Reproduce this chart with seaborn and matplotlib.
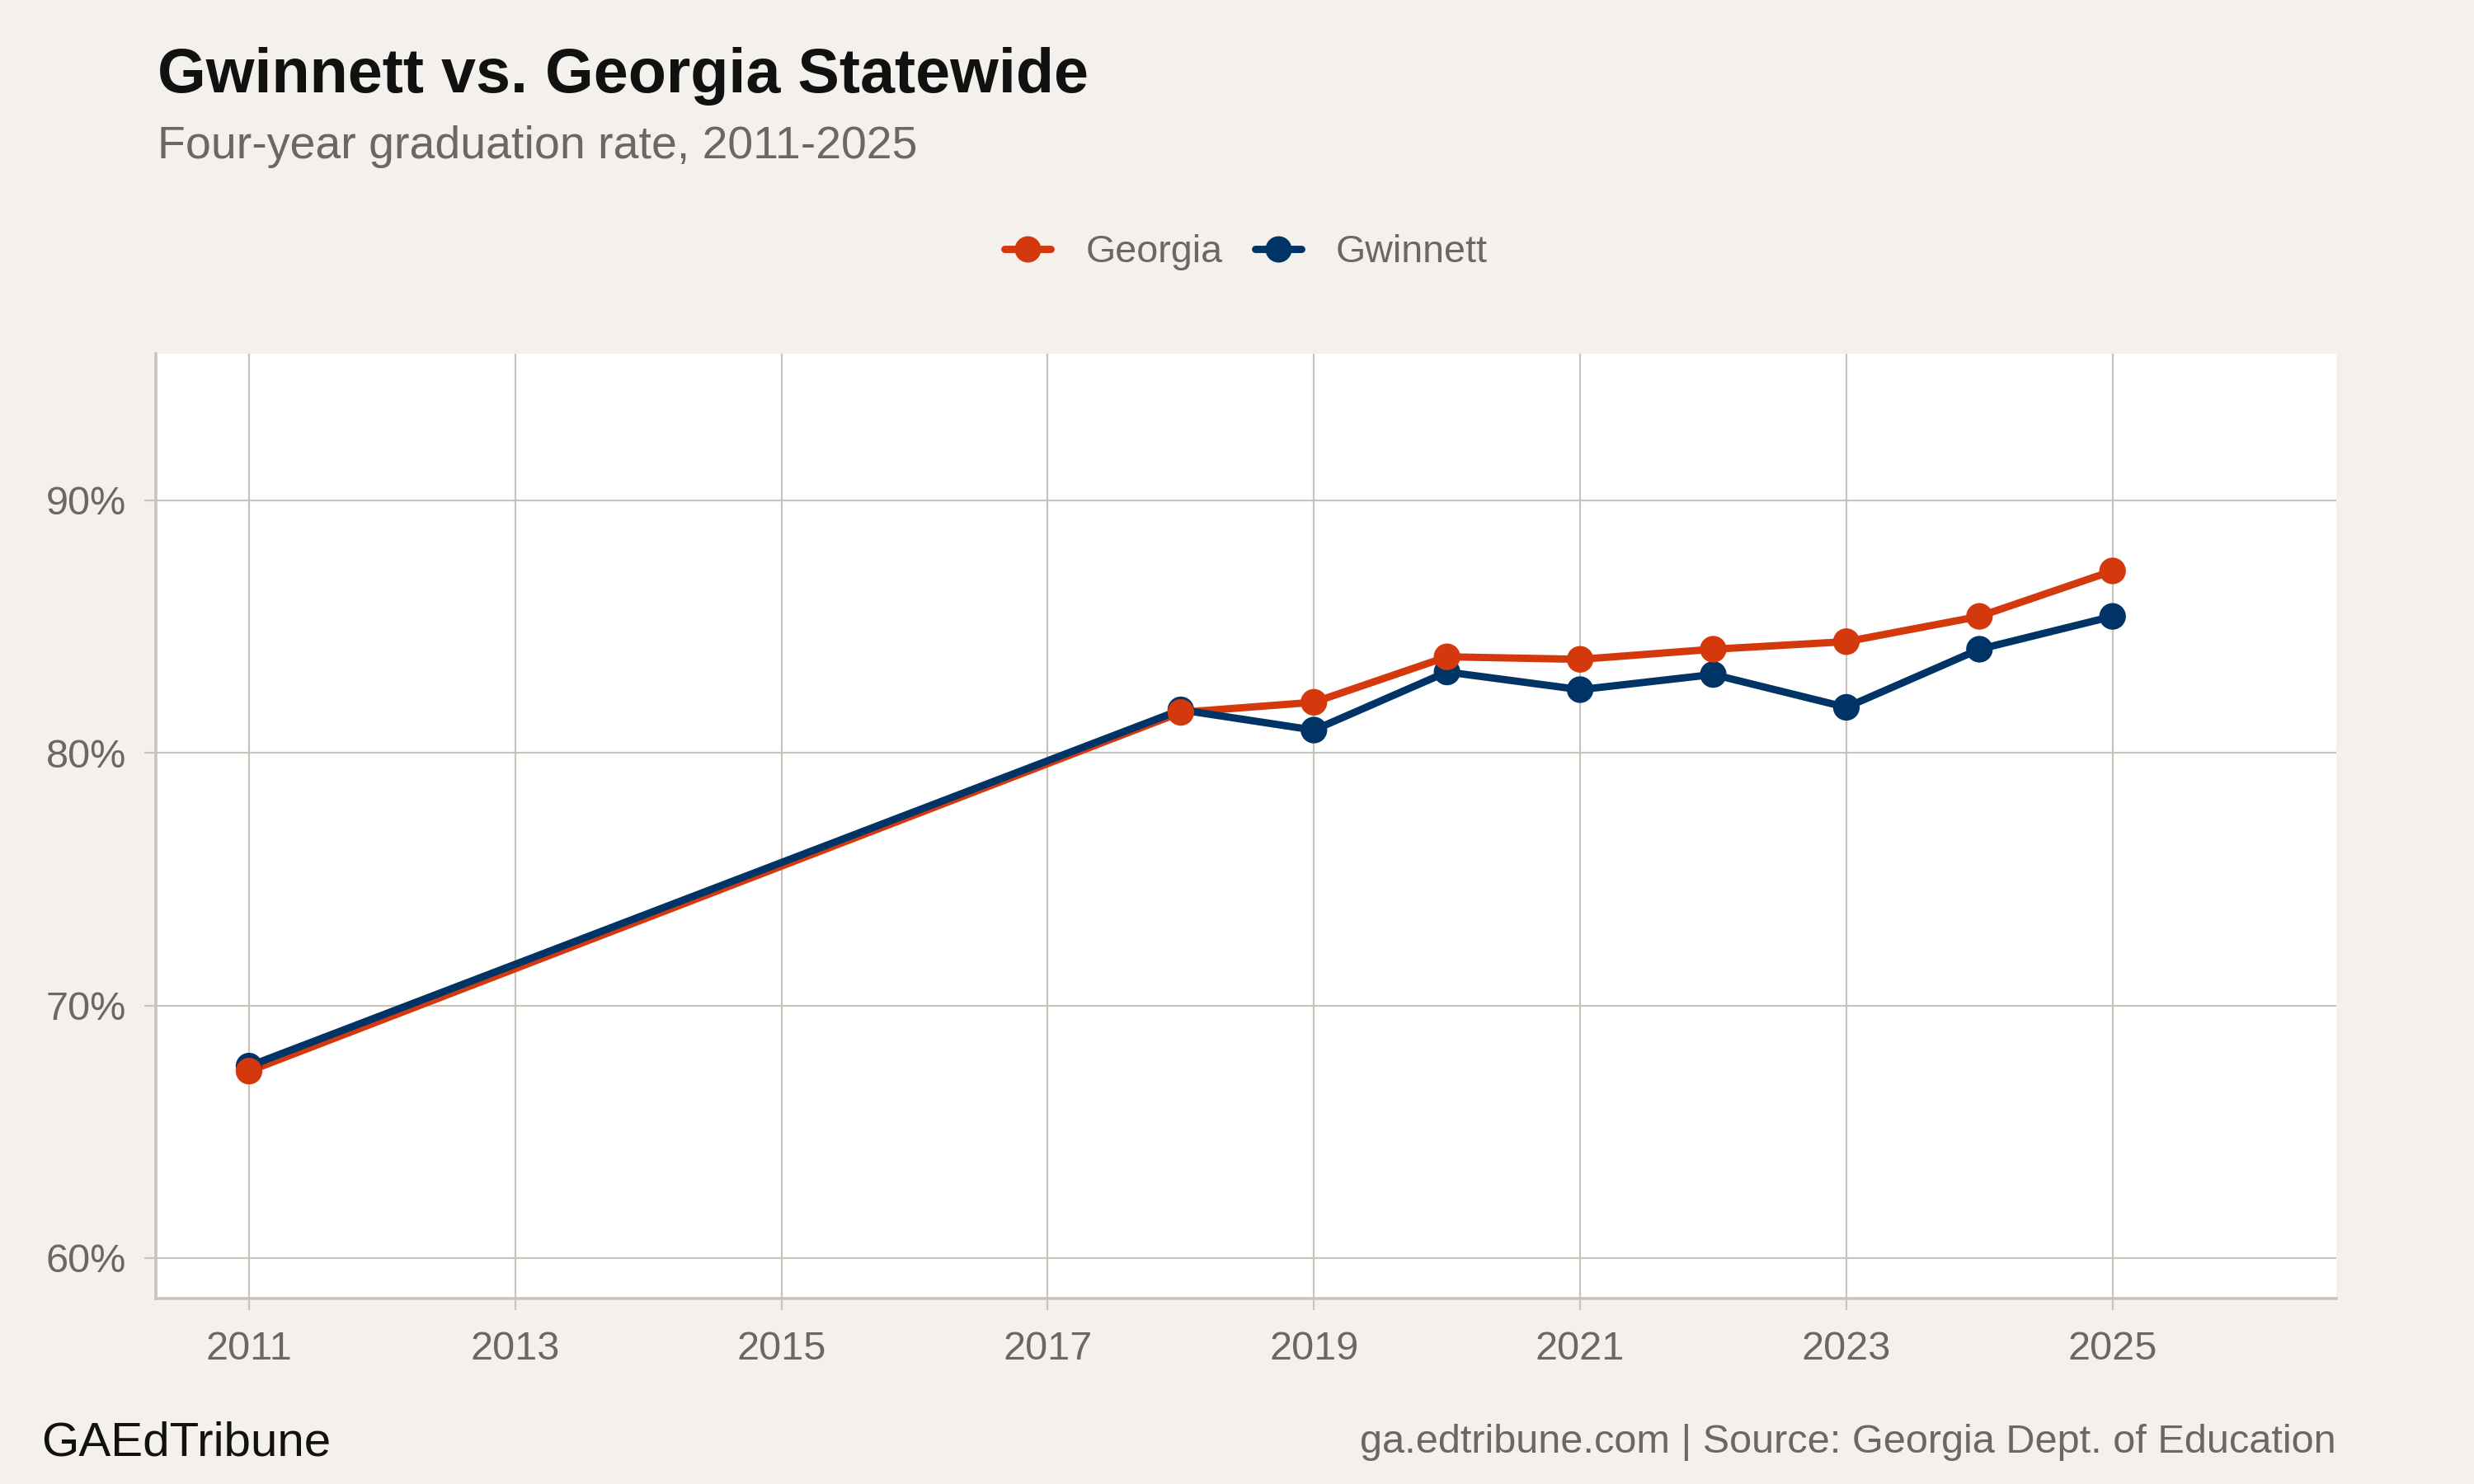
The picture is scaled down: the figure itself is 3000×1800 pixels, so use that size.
import pandas as pd
import matplotlib.pyplot as plt
import seaborn as sns
from matplotlib.lines import Line2D
from matplotlib.ticker import FuncFormatter

years = [2011, 2018, 2019, 2020, 2021, 2022, 2023, 2024, 2025]
georgia = [67.4, 81.6, 82.0, 83.8, 83.7, 84.1, 84.4, 85.4, 87.2]
gwinnett = [67.6, 81.7, 80.9, 83.2, 82.5, 83.1, 81.8, 84.1, 85.4]
series = ["Georgia", "Gwinnett"]
colors = {"Georgia": "#d4380d", "Gwinnett": "#003366"}
x_ticks = [2011, 2013, 2015, 2017, 2019, 2021, 2023, 2025]
y_ticks = [60, 70, 80, 90]

df = pd.DataFrame({
    "year": years * 2,
    "rate": georgia + gwinnett,
    "district": ["Georgia"] * len(years) + ["Gwinnett"] * len(years),
})

bg = "#f4f1ec"
grid = "#c9c4bb"
grey = "#6b6761"

sns.set_theme(style="white")
plt.rcParams["font.family"] = ["Liberation Sans", "DejaVu Sans"]

fig = plt.figure(figsize=(15, 9), dpi=200, facecolor=bg)
ax = fig.add_axes([0.063, 0.125, 0.8813, 0.6367])
ax.set_facecolor("white")

sns.lineplot(data=df, x="year", y="rate", hue="district", hue_order=series,
             palette=colors, linewidth=3.2, legend=False, ax=ax, zorder=3)
# points for Gwinnett first so Georgia dots sit on top
pts = df.sort_values("district", ascending=False)
sns.scatterplot(data=pts, x="year", y="rate", hue="district", hue_order=series,
                palette=colors, s=135, linewidth=0, legend=False, ax=ax, zorder=4)

ax.set_xlim(2010.3, 2026.68)
ax.set_ylim(58.4, 95.8)
ax.set_xticks(x_ticks)
ax.set_yticks(y_ticks)
ax.yaxis.set_major_formatter(FuncFormatter(lambda v, p: f"{v:.0f}%"))
ax.grid(True, color=grid, linewidth=0.8)
ax.set_axisbelow(True)
ax.tick_params(axis="both", colors=grid, labelcolor=grey, labelsize=17.5,
               length=5, width=0.8)
ax.tick_params(axis="x", pad=9, bottom=True)
ax.tick_params(axis="y", pad=8, left=True)
ax.set_xlabel("")
ax.set_ylabel("")
for side in ["top", "right"]:
    ax.spines[side].set_visible(False)
for side in ["left", "bottom"]:
    ax.spines[side].set_color(grid)
    ax.spines[side].set_linewidth(1.3)

fig.text(0.0637, 0.9378, "Gwinnett vs. Georgia Statewide", fontsize=27.2,
         fontweight="bold", color="#111111", va="baseline")
fig.text(0.0637, 0.8933, "Four-year graduation rate, 2011-2025", fontsize=20,
         color=grey, va="baseline")

handles = [Line2D([], [], color=colors[s], linewidth=3.2, marker="o",
                  markersize=11.5, markeredgewidth=0) for s in series]
fig.legend(handles, series, loc="center", bbox_to_anchor=(0.5037, 0.83),
           ncol=2, frameon=False, fontsize=16.8, labelcolor=grey,
           handlelength=1.2, handletextpad=0.9, columnspacing=0.85)

fig.text(0.0167, 0.0189, "GAEdTribune", fontsize=21, color="#111111",
         va="baseline")
fig.text(0.9443, 0.0211, "ga.edtribune.com | Source: Georgia Dept. of Education",
         fontsize=17.5, color=grey, ha="right", va="baseline")

fig.savefig("out.png", dpi=200, facecolor=bg)
